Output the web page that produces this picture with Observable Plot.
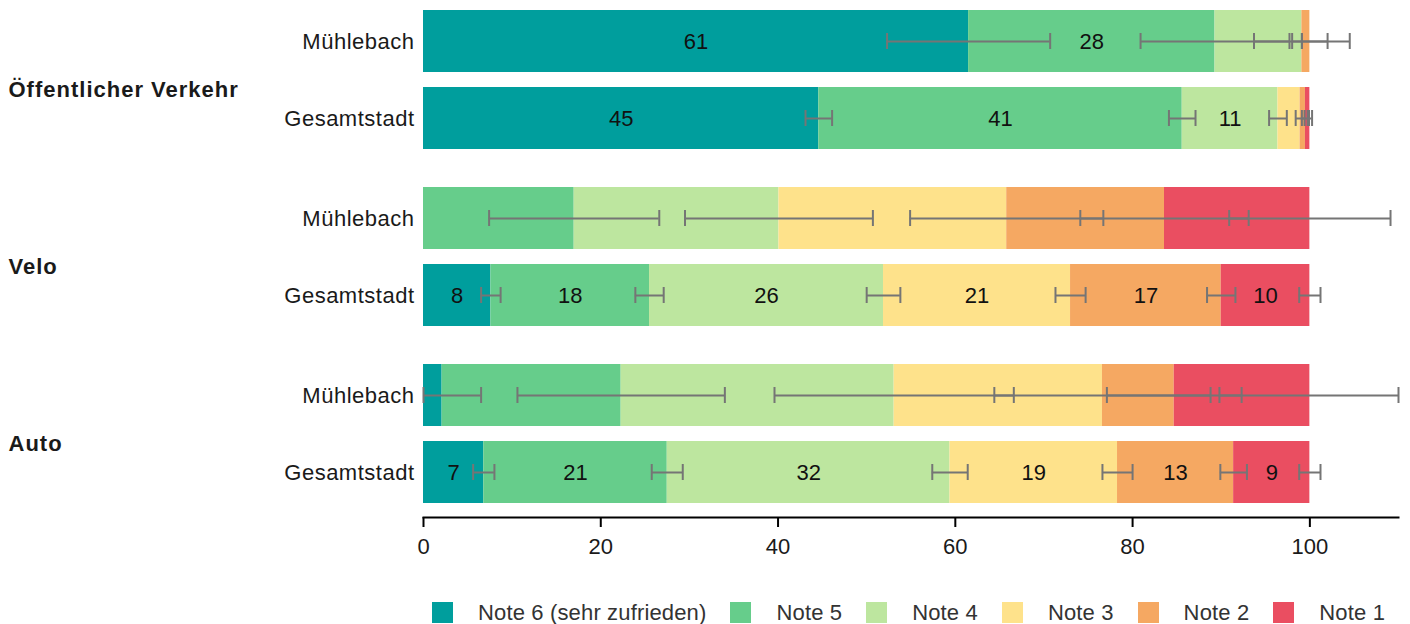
<!DOCTYPE html>
<html>
<head>
<meta charset="utf-8">
<script src="https://cdn.jsdelivr.net/npm/d3@7"></script>
<script src="https://cdn.jsdelivr.net/npm/@observablehq/plot@0.6"></script>
<style>
  html, body { margin: 0; padding: 0; background: #fff; }
  body { width: 1410px; height: 624px; overflow: hidden; font-family: "Liberation Sans", Arial, sans-serif; }
  #chart svg { display: block; }
  g[aria-label="fy-axis tick label"] text { letter-spacing: 1px; }
  g[aria-label="y-axis tick label"] text { letter-spacing: 0.5px; }
  #legend { display: flex; align-items: center; margin-top: 12px; padding-left: 432px; font-size: 22px; line-height: 21px; color: #333; letter-spacing: 0.15px; }
  #legend .item { display: flex; align-items: center; margin-right: 24px; }
  #legend .sw { width: 21px; height: 21px; margin-right: 25px; }
</style>
</head>
<body>
<div id="chart"></div>
<div id="legend"></div>
<script>
const groups = ["Öffentlicher Verkehr", "Velo", "Auto"];
const areas = ["Mühlebach", "Gesamtstadt"];
const notes = ["Note 6 (sehr zufrieden)", "Note 5", "Note 4", "Note 3", "Note 2", "Note 1"];
const colors = ["#009e9d", "#66cd8b", "#bde69f", "#fee28b", "#f5a862", "#ea4e61"];
const xTicks = [0, 20, 40, 60, 80, 100];

// shares in % per note (Note 6 .. Note 1)
const ovMuehlebach   = [61.5, 27.8, 9.8, 0, 0.9, 0];
const ovGesamtstadt  = [44.6, 41.0, 10.8, 2.5, 0.6, 0.5];
const veloMuehlebach = [0, 17.0, 23.1, 25.7, 17.8, 16.4];
const veloGesamtstadt= [7.6, 17.9, 26.4, 21.1, 17.0, 10.0];
const autoMuehlebach = [2.1, 20.2, 30.8, 23.5, 8.1, 15.3];
const autoGesamtstadt= [6.8, 20.7, 31.9, 18.9, 13.1, 8.6];

// confidence half-widths at the cumulative boundary of each note
const ovMuehlebachErr   = [9.2, 8.4, 5.4, 0, 2.0, null];
const ovGesamtstadtErr  = [1.5, 1.5, 1.0, 0.5, 0.4, 0.25];
const veloMuehlebachErr = [null, 9.6, 10.6, 10.9, 9.5, 9.1];
const veloGesamtstadtErr= [1.1, 1.6, 1.9, 1.7, 1.6, 1.2];
const autoMuehlebachErr = [4.4, 11.7, 13.5, 12.2, 7.6, 10.2];
const autoGesamtstadtErr= [1.2, 1.75, 2.0, 1.7, 1.5, 1.2];

// printed labels
const ovMuehlebachLab   = [61, 28, null, null, null, null];
const ovGesamtstadtLab  = [45, 41, 11, null, null, null];
const veloMuehlebachLab = [null, null, null, null, null, null];
const veloGesamtstadtLab= [8, 18, 26, 21, 17, 10];
const autoMuehlebachLab = [null, null, null, null, null, null];
const autoGesamtstadtLab= [7, 21, 32, 19, 13, 9];

const rowsDef = [
  [groups[0], areas[0], ovMuehlebach, ovMuehlebachErr, ovMuehlebachLab],
  [groups[0], areas[1], ovGesamtstadt, ovGesamtstadtErr, ovGesamtstadtLab],
  [groups[1], areas[0], veloMuehlebach, veloMuehlebachErr, veloMuehlebachLab],
  [groups[1], areas[1], veloGesamtstadt, veloGesamtstadtErr, veloGesamtstadtLab],
  [groups[2], areas[0], autoMuehlebach, autoMuehlebachErr, autoMuehlebachLab],
  [groups[2], areas[1], autoGesamtstadt, autoGesamtstadtErr, autoGesamtstadtLab]
];

const data = [];
for (const [group, area, vals, errs, labs] of rowsDef) {
  let cum = 0;
  vals.forEach((v, i) => {
    const x1 = cum, x2 = cum + v;
    cum = x2;
    data.push({
      group, area, note: notes[i], value: v, x1, x2, mid: (x1 + x2) / 2,
      label: labs[i] == null ? null : String(labs[i]),
      err: errs[i],
      lo: errs[i] == null ? null : Math.max(0, x2 - errs[i]),
      hi: errs[i] == null ? null : Math.min(110, x2 + errs[i])
    });
  });
}
const errData = data.filter(d => d.err != null);
const labData = data.filter(d => d.label != null);
const errColor = "#757575";

const chart = Plot.plot({
  width: 1410,
  height: 590,
  marginLeft: 423,
  marginRight: 12,
  marginTop: 10,
  marginBottom: 86.5,
  style: {fontFamily: "'Liberation Sans', Arial, sans-serif", fontSize: "22px", color: "#1a1a1a", background: "#fff"},
  x: {domain: [0, 110]},
  y: {domain: areas, paddingInner: 0.2, paddingOuter: 0, label: null},
  fy: {domain: groups, paddingInner: 0.212, paddingOuter: 0, label: null},
  color: {domain: notes, range: colors},
  marks: [
    Plot.barX(data, {x1: "x1", x2: "x2", y: "area", fy: "group", fill: "note"}),
    Plot.text(labData, {x: "mid", y: "area", fy: "group", text: "label", fill: "#111", fontSize: 22}),
    Plot.ruleY(errData, {x1: "lo", x2: "hi", y: "area", fy: "group", stroke: errColor, strokeWidth: 2}),
    Plot.tickX(errData, {x: "lo", y: "area", fy: "group", stroke: errColor, strokeWidth: 2, insetTop: 23, insetBottom: 23}),
    Plot.tickX(errData, {x: "hi", y: "area", fy: "group", stroke: errColor, strokeWidth: 2, insetTop: 23, insetBottom: 23}),
    Plot.axisY({tickSize: 0, tickPadding: 9, label: null, fontSize: 22}),
    Plot.axisFy({anchor: "left", tickSize: 0, tickPadding: 0, dx: -415, dy: 10, textAnchor: "start", fontWeight: "bold", fontSize: 22, label: null}),
    Plot.axisX({ticks: xTicks, tickSize: 10, tickPadding: 11, dy: 14, strokeWidth: 2, stroke: "#000", label: null, fontSize: 22}),
    Plot.frame({anchor: "bottom", facetAnchor: "bottom", dy: 14, stroke: "#000", strokeWidth: 2})
  ]
});
document.getElementById("chart").appendChild(chart);

const legend = document.getElementById("legend");
notes.forEach((n, i) => {
  const item = document.createElement("div");
  item.className = "item";
  const sw = document.createElement("span");
  sw.className = "sw";
  sw.style.background = colors[i];
  const t = document.createElement("span");
  t.textContent = n;
  item.appendChild(sw);
  item.appendChild(t);
  legend.appendChild(item);
});
</script>
</body>
</html>
